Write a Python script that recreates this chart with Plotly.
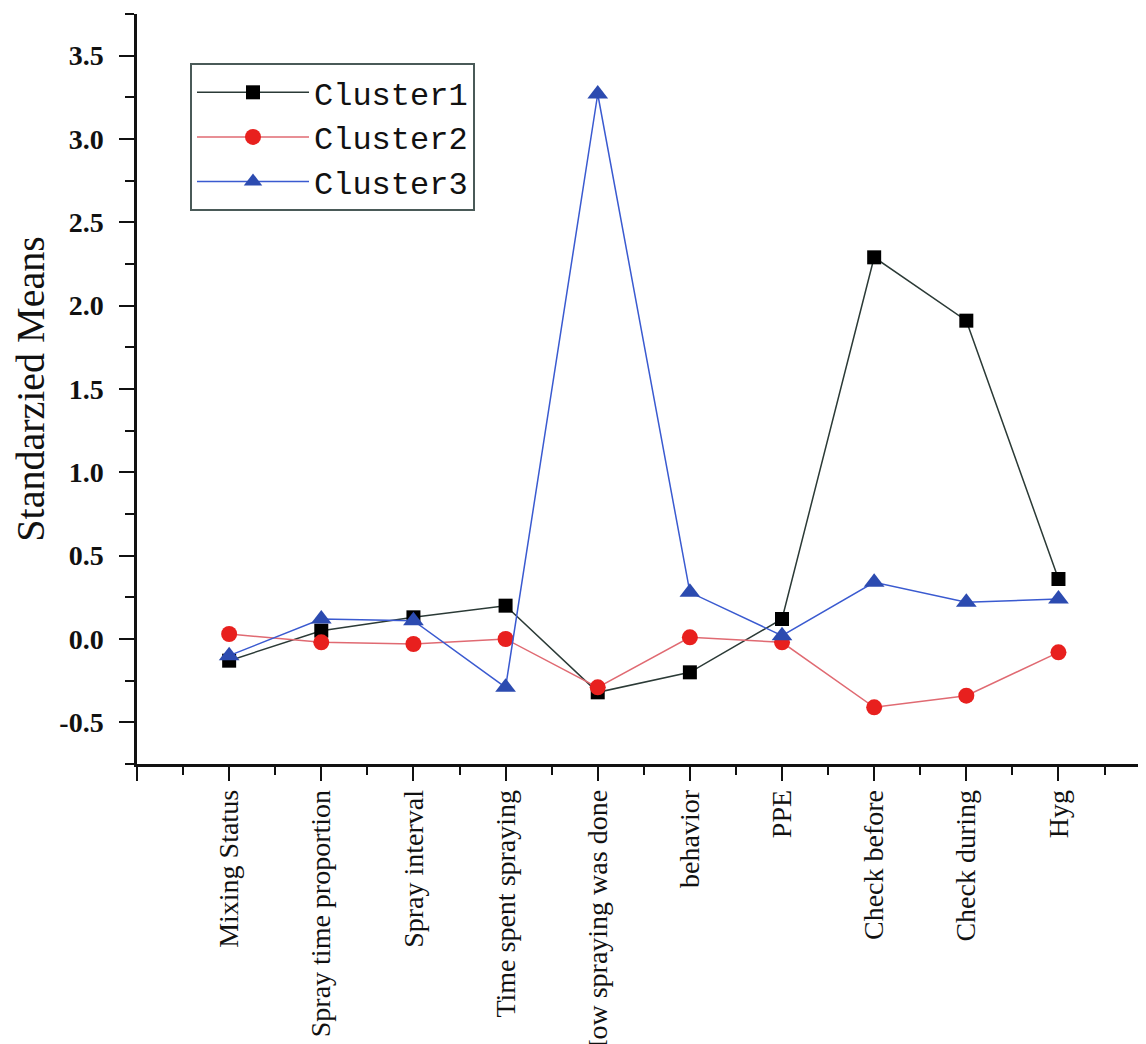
import plotly.graph_objects as go

categories = ["Mixing Status", "Spray time proportion", "Spray interval",
              "Time spent spraying", "How spraying was done", "behavior",
              "PPE", "Check before", "Check during", "Hyg"]
cluster1 = [-0.13, 0.05, 0.13, 0.20, -0.32, -0.20, 0.12, 2.29, 1.91, 0.36]
cluster2 = [0.03, -0.02, -0.03, 0.00, -0.29, 0.01, -0.02, -0.41, -0.34, -0.08]
cluster3 = [-0.10, 0.12, 0.11, -0.29, 3.27, 0.28, 0.02, 0.34, 0.22, 0.24]
y_tickvals = [-0.5, 0.0, 0.5, 1.0, 1.5, 2.0, 2.5, 3.0, 3.5]
y_ticktext = ["-0.5", "0.0", "0.5", "1.0", "1.5", "2.0", "2.5", "3.0", "3.5"]

idx = list(range(len(categories)))

fig = go.Figure()
fig.add_trace(go.Scatter(
    x=idx, y=cluster1, name="Cluster1", mode="lines+markers",
    line=dict(color="#2b3a36", width=1.5),
    marker=dict(symbol="square", size=14, color="#000000")))
fig.add_trace(go.Scatter(
    x=idx, y=cluster2, name="Cluster2", mode="lines+markers",
    line=dict(color="#e06a72", width=1.5),
    marker=dict(symbol="circle", size=16, color="#e8201e")))
fig.add_trace(go.Scatter(
    x=idx, y=cluster3, name="Cluster3", mode="lines+markers",
    line=dict(color="#3a5ad0", width=1.5),
    marker=dict(symbol="triangle-up", size=18, color="#2c4bb0")))

# page body has an 8px margin; offsets below compensate for it
PL, PT, PW, PH = 129, 6, 1009, 750

fig.update_layout(
    width=1146, height=1044,
    template="none",
    paper_bgcolor="white", plot_bgcolor="white",
    margin=dict(l=PL, r=1146 - PL - PW, t=PT, b=1044 - PT - PH, autoexpand=False),
    showlegend=True,
    legend=dict(
        x=(182 - PL) / PW, y=1 - (55 - PT) / PH,
        xanchor="left", yanchor="top",
        bgcolor="white", bordercolor="#4a5a58", borderwidth=2,
        font=dict(family="Liberation Mono", size=32, color="#111111"),
        itemwidth=112, tracegroupgap=0),
    xaxis=dict(
        range=[-1, 9.95], showgrid=False, zeroline=False,
        showline=True, linecolor="#111111", linewidth=2.5,
        tickmode="array", tickvals=[-1] + idx, ticktext=[""] + categories,
        ticks="outside", ticklen=14, tickwidth=2, tickcolor="#111111",
        tickangle=-90, ticklabelstandoff=-2,
        tickfont=dict(family="Liberation Serif", size=28, color="#111111"),
        minor=dict(tickmode="array",
                   tickvals=[i + 0.5 for i in [-1] + idx],
                   ticks="outside", ticklen=8, tickwidth=2, tickcolor="#111111"),
        automargin=False),
    yaxis=dict(
        range=[-0.75, 3.75], showgrid=False, zeroline=False,
        showline=True, linecolor="#111111", linewidth=2.5,
        tickmode="array", tickvals=y_tickvals, ticktext=y_ticktext,
        ticks="outside", ticklen=15, tickwidth=2, tickcolor="#111111",
        ticklabelstandoff=10,
        tickfont=dict(family="Liberation Serif", size=28, color="#111111", weight="bold"),
        minor=dict(dtick=0.25, tick0=0, ticks="outside", ticklen=9,
                   tickwidth=2, tickcolor="#111111"),
        title=dict(text="Standarzied Means", standoff=19,
                   font=dict(family="Liberation Serif", size=40, color="#111111")),
        automargin=False),
)

fig.write_html("out.html")
